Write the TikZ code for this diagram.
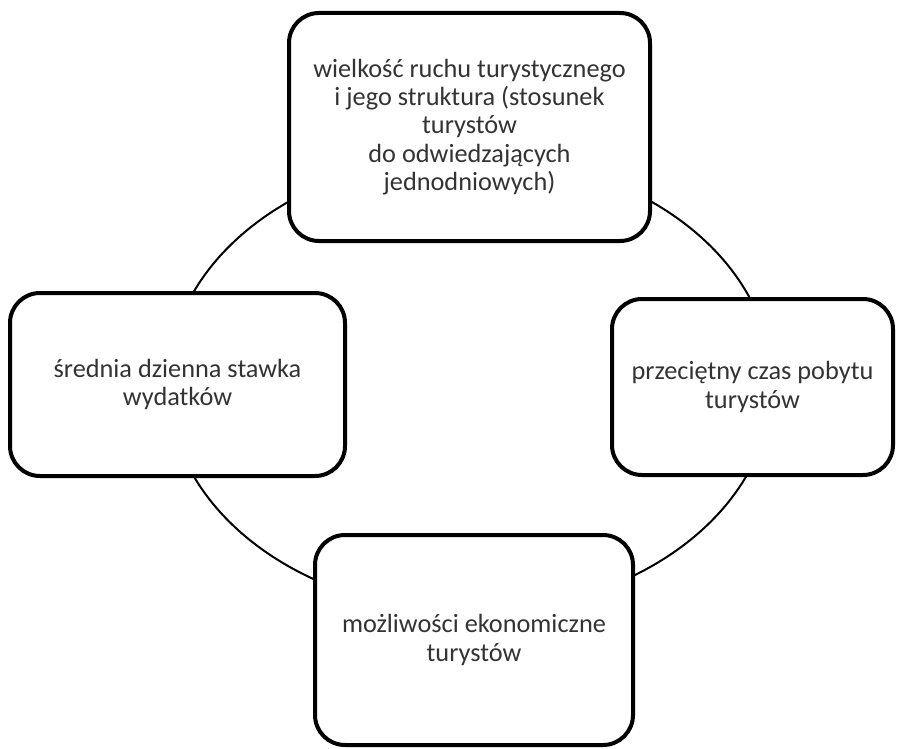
\documentclass[tikz,border=0pt]{standalone}
\usepackage{fontspec}
\setmainfont{Carlito}
\begin{document}
\begin{tikzpicture}[x=1pt,y=-1pt]
\tikzset{
  box/.style={draw=black, line width=4pt, rounded corners=30pt, fill=white,
    align=center, text=black!80, font=\fontsize{26.3}{28.3}\selectfont, inner sep=0pt},
  ring/.style={draw=black, line width=2pt}
}
\fill[white] (0,0) rectangle (899,749);
\useasboundingbox (0,0) rectangle (899,749);
\draw[ring] (470,384) ellipse [x radius=302, y radius=228];
\node[box, minimum width=361pt, minimum height=228pt] (topbox) at (469.5,127)
  {wielkość ruchu turystycznego\\ i jego struktura (stosunek\\ turystów\\ do odwiedzających\\ jednodniowych)};
\node[box, minimum width=335pt, minimum height=183pt] (leftbox) at (177.5,384.5)
  {średnia dzienna stawka\\ wydatków};
\node[box, minimum width=281pt, minimum height=176pt] (rightbox) at (752.5,387)
  {przeciętny czas pobytu\\ turystów};
\node[box, minimum width=318pt, minimum height=210pt] (bottombox) at (474,640)
  {możliwości ekonomiczne\\ turystów};
\end{tikzpicture}
\end{document}
